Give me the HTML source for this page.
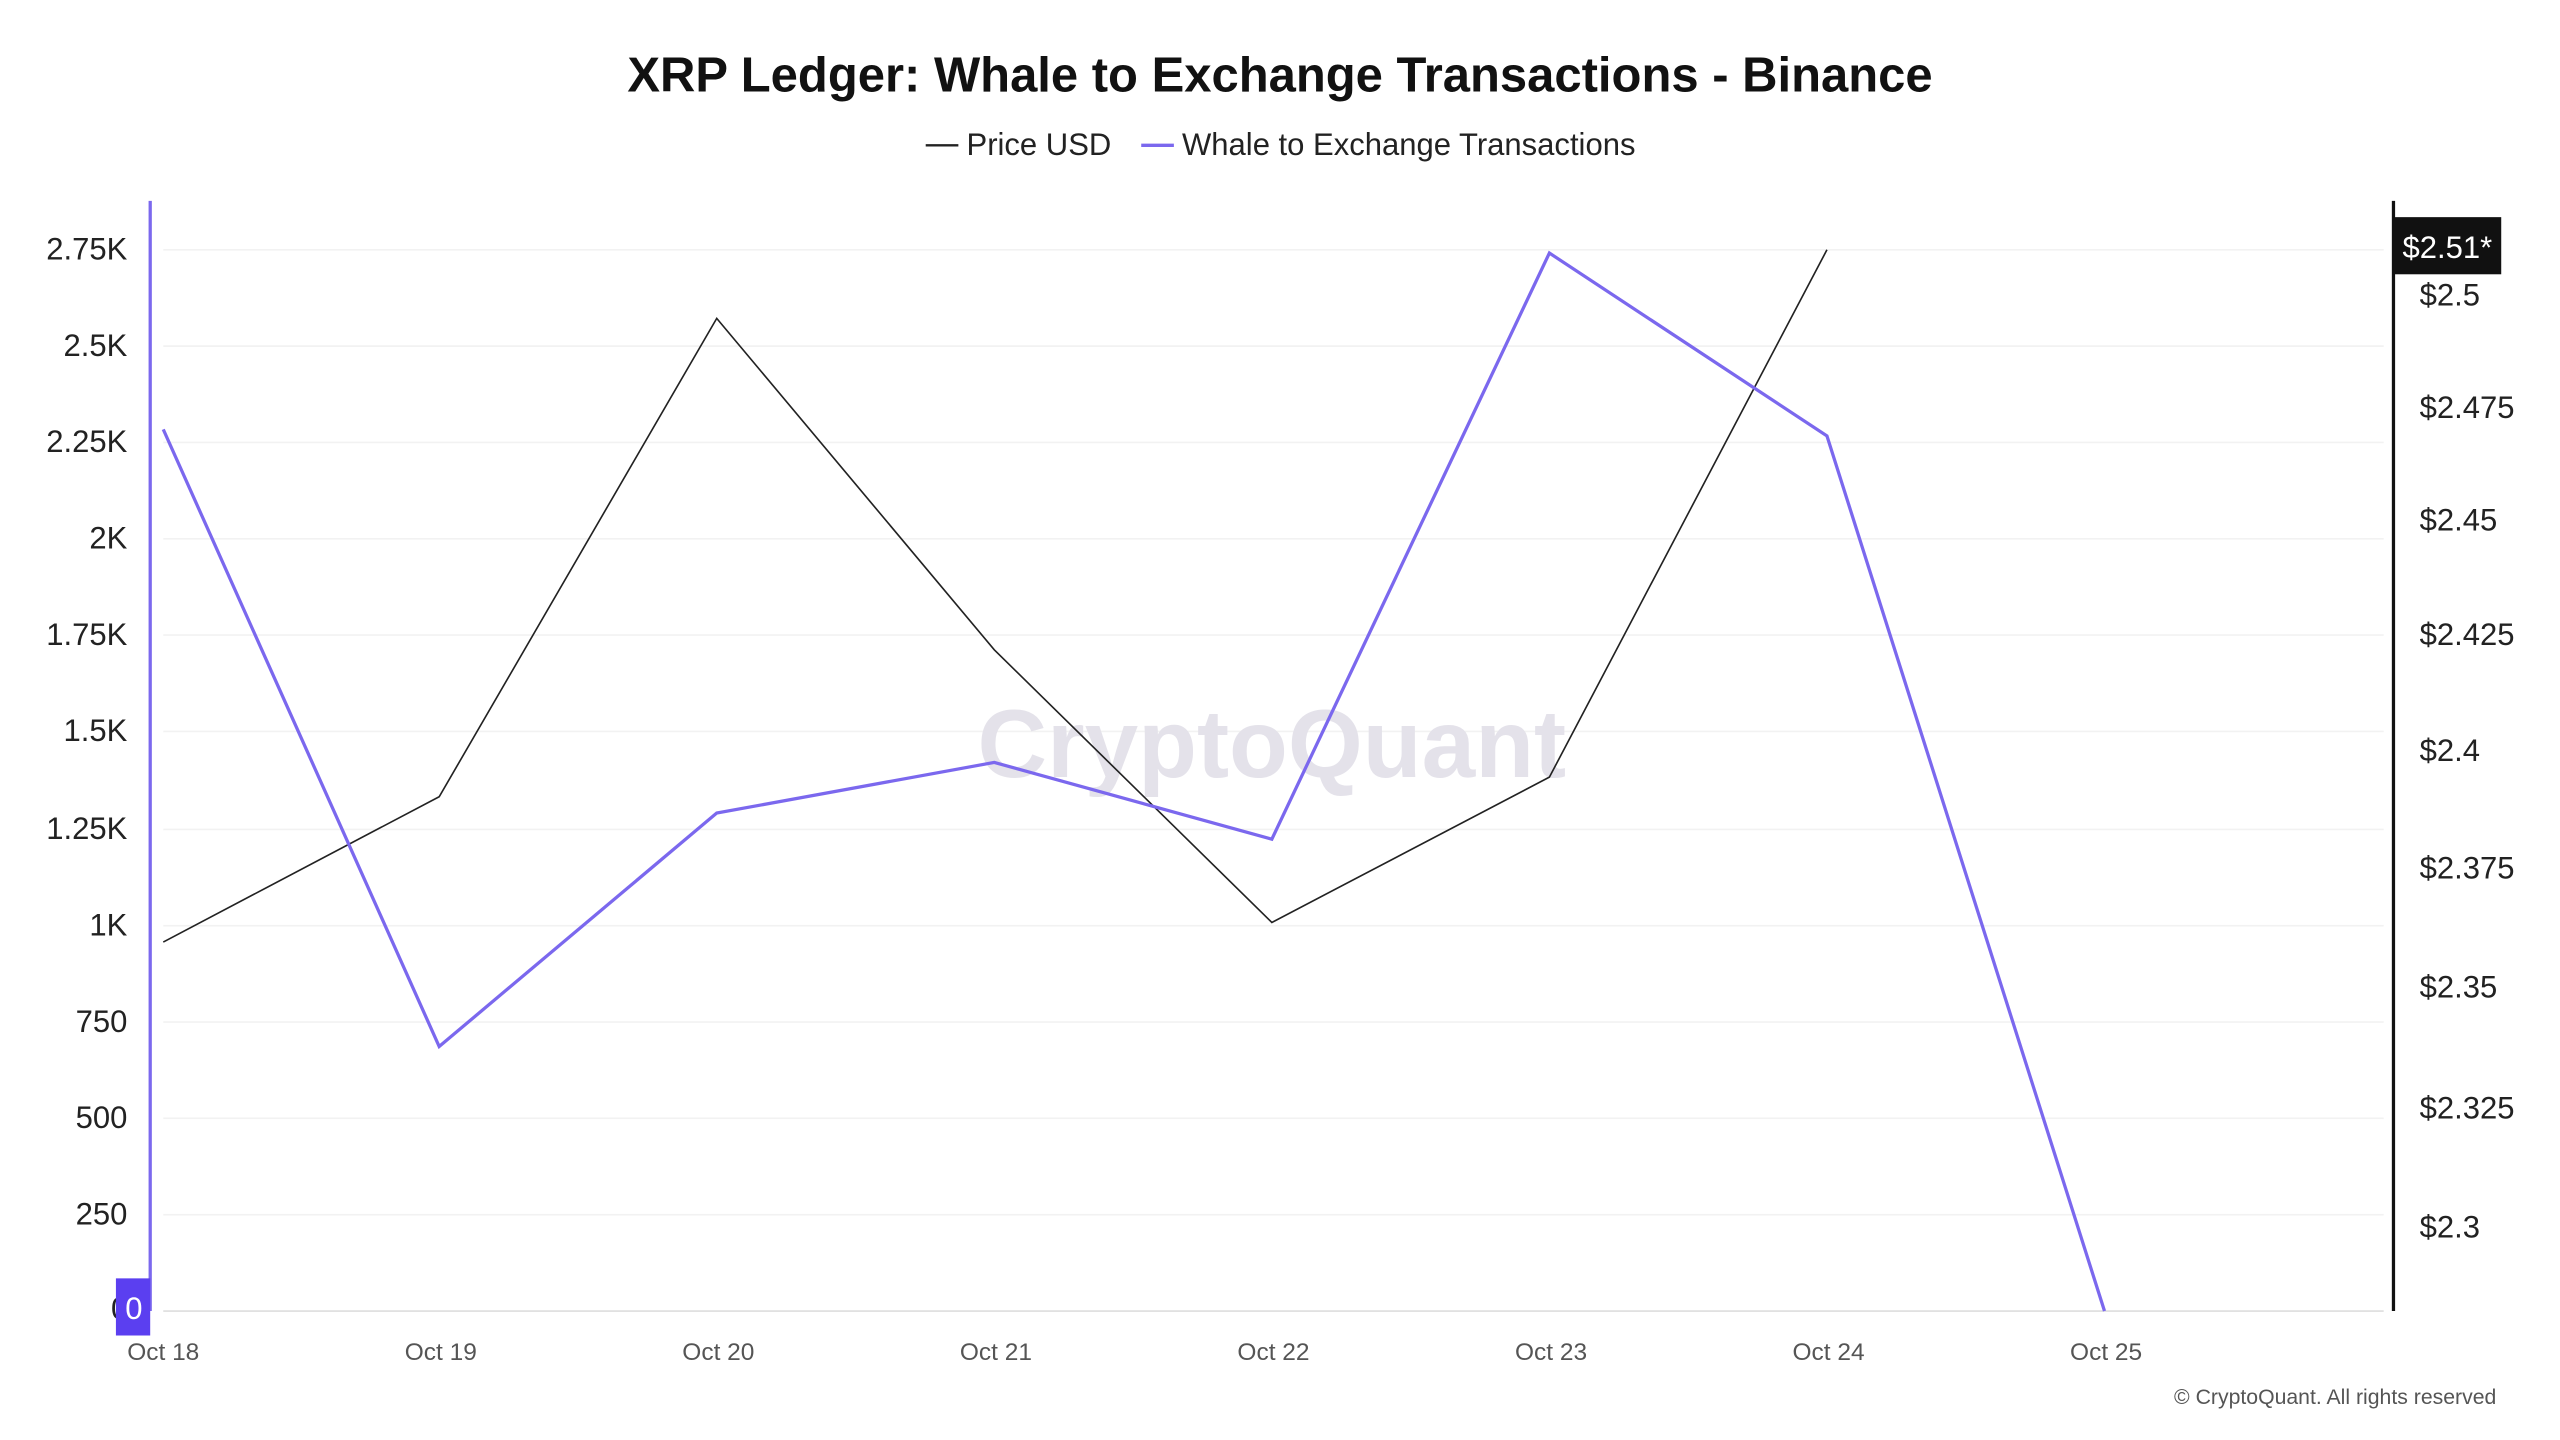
<!DOCTYPE html>
<html><head><meta charset="utf-8"><style>
html,body{margin:0;padding:0;background:#fff;}
svg{display:block;font-family:"Liberation Sans",sans-serif;}
</style></head><body>
<svg width="2560" height="1440" viewBox="0 0 1568 882" xmlns="http://www.w3.org/2000/svg">
<rect width="1568" height="882" fill="#fff"/>
<text x="784" y="56" text-anchor="middle" font-size="30" font-weight="bold" fill="#111">XRP Ledger: Whale to Exchange Transactions - Binance</text>
<line x1="567" y1="89" x2="587" y2="89" stroke="#222" stroke-width="1.5"/>
<text x="592" y="95" font-size="19" fill="#222">Price USD</text>
<line x1="699" y1="89" x2="719" y2="89" stroke="#7b68ee" stroke-width="2"/>
<text x="724" y="95" font-size="19" fill="#222">Whale to Exchange Transactions</text>
<g stroke="#f2f2f2" stroke-width="1">
<line x1="100" x2="1460" y1="153" y2="153"/><line x1="100" x2="1460" y1="212" y2="212"/>
<line x1="100" x2="1460" y1="271" y2="271"/><line x1="100" x2="1460" y1="330" y2="330"/>
<line x1="100" x2="1460" y1="389" y2="389"/><line x1="100" x2="1460" y1="448" y2="448"/>
<line x1="100" x2="1460" y1="508" y2="508"/><line x1="100" x2="1460" y1="567" y2="567"/>
<line x1="100" x2="1460" y1="626" y2="626"/><line x1="100" x2="1460" y1="685" y2="685"/>
<line x1="100" x2="1460" y1="744" y2="744"/>
</g>
<line x1="100" x2="1460" y1="803" y2="803" stroke="#ddd"/>
<line x1="92" y1="123" x2="92" y2="803" stroke="#7b68ee" stroke-width="2"/>
<line x1="1466" y1="123" x2="1466" y2="803" stroke="#111" stroke-width="2"/>
<g font-size="19" fill="#222" text-anchor="end">
<text x="78" y="159">2.75K</text><text x="78" y="218">2.5K</text><text x="78" y="277">2.25K</text>
<text x="78" y="336">2K</text><text x="78" y="395">1.75K</text><text x="78" y="454">1.5K</text>
<text x="78" y="514">1.25K</text><text x="78" y="573">1K</text><text x="78" y="632">750</text>
<text x="78" y="691">500</text><text x="78" y="750">250</text>
</g>
<g font-size="19" fill="#222">
<text x="1482" y="187">$2.5</text><text x="1482" y="256">$2.475</text><text x="1482" y="325">$2.45</text>
<text x="1482" y="395">$2.425</text><text x="1482" y="466">$2.4</text><text x="1482" y="538">$2.375</text>
<text x="1482" y="611">$2.35</text><text x="1482" y="685">$2.325</text><text x="1482" y="758">$2.3</text>
</g>
<g font-size="15" fill="#555" text-anchor="middle">
<text x="100" y="833">Oct 18</text><text x="270" y="833">Oct 19</text><text x="440" y="833">Oct 20</text>
<text x="610" y="833">Oct 21</text><text x="780" y="833">Oct 22</text><text x="950" y="833">Oct 23</text>
<text x="1120" y="833">Oct 24</text><text x="1290" y="833">Oct 25</text>
</g>
<text x="779" y="476" text-anchor="middle" font-size="59" font-weight="bold" fill="#e4e2ea">CryptoQuant</text>
<polyline fill="none" stroke="#222" stroke-width="1" points="100,577 269,488 439,195 609,398 779,565 949,476 1119,153"/>
<polyline fill="none" stroke="#7b68ee" stroke-width="2" points="100,263 269,641 439,498 609,467 779,514 949,155 1119,267 1289,803"/>
<rect x="1466" y="133" width="66" height="35" fill="#111"/>
<text x="1499" y="158" text-anchor="middle" font-size="19" fill="#fff">$2.51*</text>
<text x="68" y="808" font-size="19" fill="#222">0</text>
<rect x="71" y="783" width="21" height="35" fill="#5b3ff0"/>
<text x="82" y="808" text-anchor="middle" font-size="19" fill="#fff">0</text>
<text x="1529" y="860" text-anchor="end" font-size="13" fill="#555">© CryptoQuant. All rights reserved</text>
</svg>
</body></html>
